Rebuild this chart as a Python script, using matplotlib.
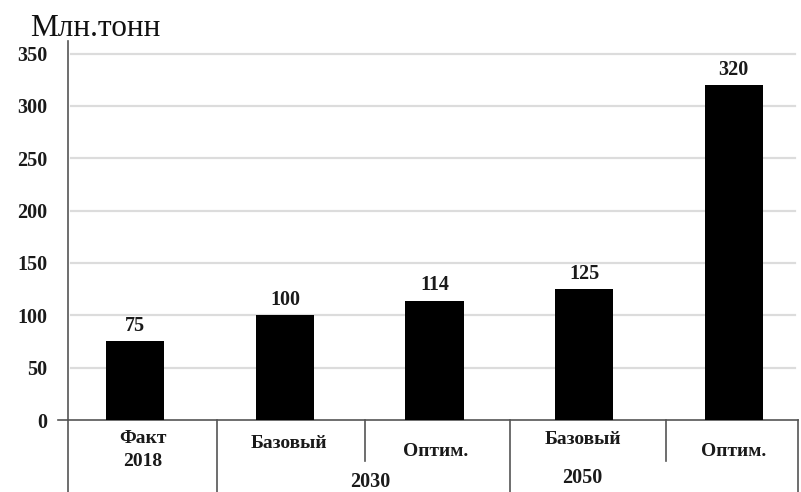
import matplotlib
matplotlib.use("Agg")
import matplotlib.pyplot as plt
from matplotlib.transforms import blended_transform_factory

plt.rcParams['font.family'] = ['Liberation Serif', 'DejaVu Serif']

# data
values = [75, 100, 114, 125, 320]
bar_labels = ['Факт\n2018', 'Базовый', 'Оптим.', 'Базовый', 'Оптим.']
groups = ['2030', '2050']
yticks = [0, 50, 100, 150, 200, 250, 300, 350]

fig = plt.figure(figsize=(8.01, 4.92), dpi=100)
y0 = 1 - 420 / 492          # axis line in figure fraction
ytop = 1 - 41 / 492
ax = fig.add_axes([68 / 801, y0, 730 / 801, ytop - y0])

x = list(range(len(values)))
ax.bar(x, values, width=0.39, color='black', zorder=3)
ax.set_xlim(-0.45, 4.43)
ax.set_ylim(0, 362)

# value labels
for xi, v in zip(x, values):
    ax.text(xi, v + 5, str(v), ha='center', va='bottom', fontsize=14.5,
            fontweight='bold', color='#1a1a1a')

# grid
for t in yticks[1:]:
    ax.plot([-0.43, 4.41], [t, t], color='#dcdcdc', lw=1.6, zorder=1)

ax.set_yticks(yticks)
ax.set_yticklabels([str(t) for t in yticks], fontsize=14.5, fontweight='bold', color='#1a1a1a')
ax.tick_params(axis='y', length=0, pad=15)
ax.tick_params(axis='x', bottom=False, labelbottom=False)
for s in ['top', 'right']:
    ax.spines[s].set_visible(False)
ax.spines['left'].set_color('#555555')
ax.spines['bottom'].set_color('#555555')
ax.spines['left'].set_linewidth(1.2)
ax.spines['bottom'].set_linewidth(1.2)

# little stub of the axis line left of zero
ax.plot([-0.517, -0.45], [0, 0], color='#555555', lw=1.2, clip_on=False)

# table under the axis
tr = blended_transform_factory(ax.transData, fig.transFigure)
ybot = 0.0
yshort = 1 - 461 / 492
for xs in [-0.45, 0.545, 2.505, 4.43]:
    ax.plot([xs, xs], [y0, ybot], color='#555555', lw=1.2, transform=tr, clip_on=False)
for xs in [1.535, 3.55]:
    ax.plot([xs, xs], [y0, yshort], color='#555555', lw=1.2, transform=tr, clip_on=False)

lab_x = [0.05, 1.03, 2.01, 2.99, 4.0]
lab_y = [450, 443, 451, 440, 451]
for lx, ly, lab in zip(lab_x, lab_y, bar_labels):
    ax.text(lx, 1 - ly / 492, lab, ha='center', va='center', fontsize=14,
            fontweight='bold', color='#1a1a1a', transform=tr, linespacing=1.4)

grp_x = [1.57, 2.99]
grp_y = [482, 478]
for gx, gy, g in zip(grp_x, grp_y, groups):
    ax.text(gx, 1 - gy / 492, g, ha='center', va='center', fontsize=14.5,
            fontweight='bold', color='#1a1a1a', transform=tr)

fig.text(30 / 801, 1 - 29 / 492, 'Млн.тонн', ha='left', va='center',
         fontsize=22.5, color='#111111')

fig.savefig('out.png', dpi=100)
